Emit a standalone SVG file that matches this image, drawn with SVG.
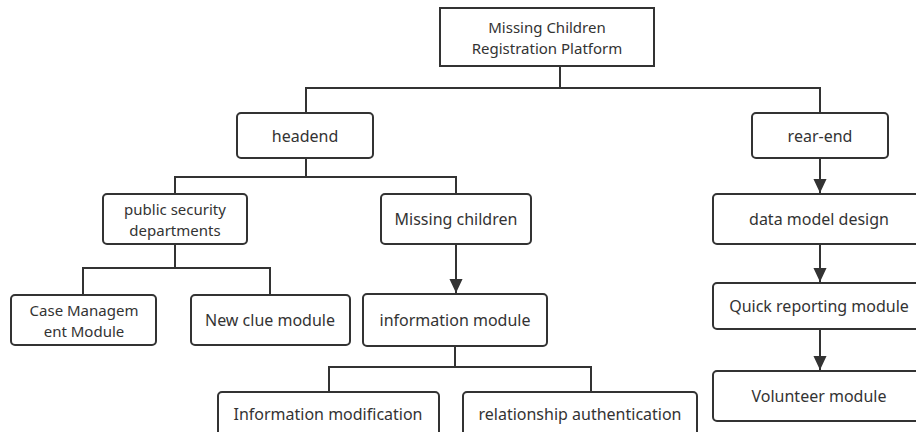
<svg xmlns="http://www.w3.org/2000/svg" width="916" height="432" viewBox="0 0 916 432">
<defs>
<style>
.box{fill:#fff;stroke:#333;stroke-width:2}
.t{font-family:"Noto Sans","Open Sans",sans-serif;font-size:16px;fill:#333;text-anchor:middle;dominant-baseline:central}
.t2{font-size:15px}
.c{fill:none;stroke:#333;stroke-width:2}
</style>
<marker id="ah" markerUnits="userSpaceOnUse" markerWidth="14" markerHeight="16" refX="15" refY="7" orient="auto" viewBox="0 0 15 14">
<path d="M0,0 L15,7 L0,14 Z" fill="#333"/>
</marker>
</defs>
<rect width="916" height="432" fill="#fff"/>
<g id="connectors">
<path class="c" d="M560,66 V88 M306,113 V88 H820 V113"/>
<path class="c" d="M306,158 V177 M175,194 V177 H456 V194"/>
<path class="c" d="M175,244 V268 M83,295 V268 H270 V295"/>
<path class="c" d="M456,244 V293" marker-end="url(#ah)"/>
<path class="c" d="M455,346 V367 M329,392 V367 H591 V392"/>
<path class="c" d="M820,158 V193" marker-end="url(#ah)"/>
<path class="c" d="M820,244 V282" marker-end="url(#ah)"/>
<path class="c" d="M820,329 V370" marker-end="url(#ah)"/>
</g>
<g id="root"><rect class="box" x="440" y="8" width="214" height="58"/><text class="t t2" x="547" y="27">Missing Children</text><text class="t t2" x="547" y="48">Registration Platform</text></g>
<g id="headend"><rect class="box" x="237" y="113" width="136" height="45" rx="4"/><text class="t" x="305" y="136">headend</text></g>
<g id="rearend"><rect class="box" x="752" y="113" width="136" height="45" rx="4"/><text class="t" x="820" y="136">rear-end</text></g>
<g id="public"><rect class="box" x="103" y="194" width="144" height="50" rx="4"/><text class="t t2" x="175" y="208.5">public security</text><text class="t t2" x="175" y="229.5">departments</text></g>
<g id="missing"><rect class="box" x="381" y="194" width="150" height="50" rx="4"/><text class="t" x="456" y="219">Missing children</text></g>
<g id="datamodel"><rect class="box" x="713" y="194" width="212" height="50" rx="4"/><text class="t" x="819" y="219">data model design</text></g>
<g id="case"><rect class="box" x="11" y="295" width="145" height="50" rx="4"/><text class="t t2" x="84" y="309.5">Case Managem</text><text class="t t2" x="84" y="330.5">ent Module</text></g>
<g id="clue"><rect class="box" x="191" y="295" width="159" height="50" rx="4"/><text class="t" x="270" y="320">New clue module</text></g>
<g id="info"><rect class="box" x="363" y="294" width="184" height="52" rx="4"/><text class="t" x="455" y="320">information module</text></g>
<g id="quick"><rect class="box" x="713" y="283" width="212" height="46" rx="4"/><text class="t" x="819" y="306">Quick reporting module</text></g>
<g id="volunteer"><rect class="box" x="713" y="371" width="212" height="50" rx="4"/><text class="t" x="819" y="396">Volunteer module</text></g>
<g id="modify"><rect class="box" x="218" y="392" width="221" height="50" rx="4"/><text class="t" x="328" y="414">Information modification</text></g>
<g id="relation"><rect class="box" x="463" y="392" width="234" height="50" rx="4"/><text class="t" x="580" y="414">relationship authentication</text></g>
</svg>
